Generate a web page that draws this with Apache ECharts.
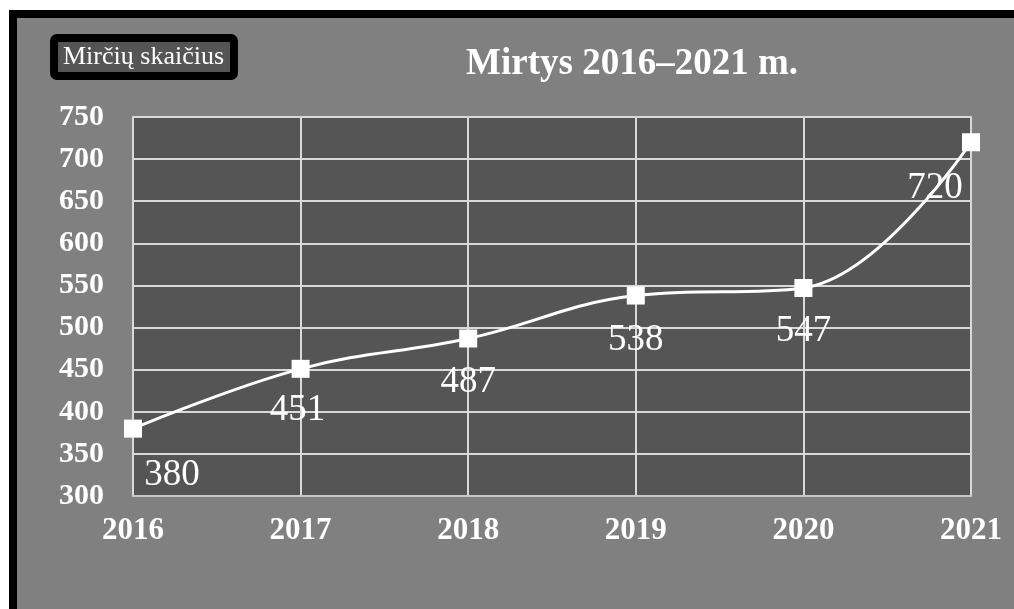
<!DOCTYPE html>
<html>
<head>
<meta charset="utf-8">
<script src="https://cdn.jsdelivr.net/npm/echarts@6/dist/echarts.min.js"></script>
<style>
  html, body { margin: 0; padding: 0; background: #fff; }
  #main { width: 1014px; height: 609px; }
</style>
</head>
<body>
<div id="main"></div>
<script>
var years = ["2016", "2017", "2018", "2019", "2020", "2021"];
var deaths = [380, 451, 487, 538, 547, 720];
var labelOffsets = [[39, 3], [-3, -2], [0, 0], [0, 1], [0, 0], [-36, 3]];

var serif = "Liberation Serif, Times New Roman, serif";
var chart = echarts.init(document.getElementById("main"));

var option = {
  backgroundColor: "#ffffff",
  animation: false,
  graphic: [
    {
      type: "rect",
      z: -10,
      shape: { x: 13, y: 14, width: 1010, height: 600 },
      style: { fill: "#808080", stroke: "#000000", lineWidth: 8 }
    }
  ],
  title: [
    {
      text: "Mirtys 2016–2021 m.",
      left: 627,
      top: 41,
      textAlign: "center",
      textStyle: { color: "#ffffff", fontFamily: serif, fontWeight: "bold", fontSize: 37 }
    },
    {
      text: "Mirčių skaičius",
      left: 54,
      top: 38,
      padding: [6, 10, 6, 9],
      backgroundColor: "#555555",
      borderColor: "#000000",
      borderWidth: 8,
      borderRadius: 3,
      textStyle: { color: "#ffffff", fontFamily: serif, fontWeight: "normal", fontSize: 26 }
    }
  ],
  grid: {
    left: 133,
    right: 43,
    top: 117,
    bottom: 113,
    show: true,
    backgroundColor: "#555555",
    borderColor: "#c8c8c8",
    borderWidth: 2
  },
  xAxis: {
    type: "category",
    boundaryGap: false,
    data: years,
    axisLine: { lineStyle: { color: "#c8c8c8", width: 2 } },
    axisTick: { show: false },
    splitLine: { show: true, lineStyle: { color: "#d9d9d9", width: 2 } },
    axisLabel: { color: "#ffffff", fontFamily: serif, fontWeight: "bold", fontSize: 31, margin: 19 }
  },
  yAxis: {
    type: "value",
    min: 300,
    max: 750,
    interval: 50,
    axisLine: { show: false },
    axisTick: { show: false },
    splitLine: { lineStyle: { color: "#d9d9d9", width: 2 } },
    axisLabel: { color: "#ffffff", fontFamily: serif, fontWeight: "bold", fontSize: 30, margin: 29 }
  },
  series: [
    {
      type: "line",
      smooth: 0.4,
      data: deaths.map(function (v, i) {
        return { value: v, label: { offset: labelOffsets[i] } };
      }),
      symbol: "rect",
      symbolSize: 18,
      itemStyle: { color: "#ffffff" },
      lineStyle: { color: "#ffffff", width: 3 },
      label: {
        show: true,
        position: "bottom",
        distance: 16,
        color: "#ffffff",
        fontFamily: serif,
        fontSize: 37
      }
    }
  ]
};

chart.setOption(option);
</script>
</body>
</html>
